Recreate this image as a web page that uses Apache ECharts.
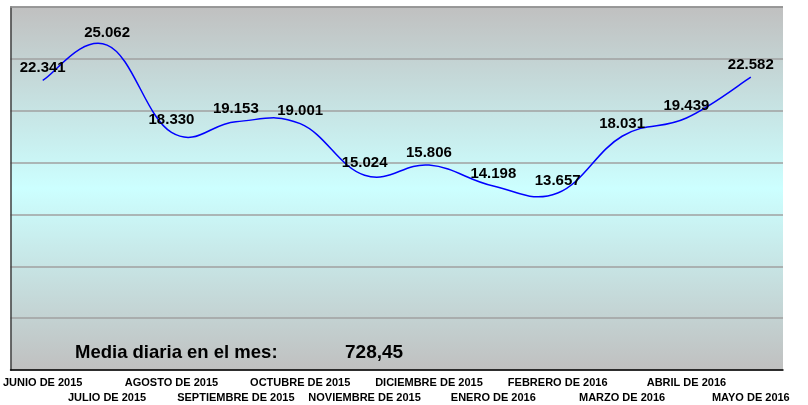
<!DOCTYPE html>
<html lang="es">
<head>
  <meta charset="UTF-8" />
  <title>Media diaria por mes</title>
  <script src="https://cdn.jsdelivr.net/npm/echarts@6.0.0/dist/echarts.min.js"></script>
  <style>
    html, body { margin: 0; padding: 0; background: #fff; }
  </style>
</head>
<body>
  <div id="main" style="width: 808px; height: 405px;"></div>
  <script>
    // meses
    const months = [
      "JUNIO DE 2015", "JULIO DE 2015", "AGOSTO DE 2015", "SEPTIEMBRE DE 2015",
      "OCTUBRE DE 2015", "NOVIEMBRE DE 2015", "DICIEMBRE DE 2015", "ENERO DE 2016",
      "FEBRERO DE 2016", "MARZO DE 2016", "ABRIL DE 2016", "MAYO DE 2016"
    ];
    // valores mensuales
    const values = [22341, 25062, 18330, 19153, 19001, 15024, 15806, 14198, 13657, 18031, 19439, 22582];
    const mediaLabel = "Media diaria en el mes:";
    const mediaValue = "728,45";

    // 22341 -> "22.341"
    function fmt(n) {
      return String(n).replace(/\B(?=(\d{3})+(?!\d))/g, ".");
    }

    const chart = echarts.init(document.getElementById("main"));
    const font = "Liberation Sans, Arial, sans-serif";
    const tension = 1 / 5;

    // curva suavizada tipo Excel (Catmull-Rom -> Bezier)
    function renderCurve(params, api) {
      const pts = values.map((v, i) => api.coord([i, v]));
      const path = [];
      path.push("M" + pts[0][0] + " " + pts[0][1]);
      for (let i = 0; i < pts.length - 1; i++) {
        const p0 = pts[Math.max(i - 1, 0)];
        const p1 = pts[i];
        const p2 = pts[i + 1];
        const p3 = pts[Math.min(i + 2, pts.length - 1)];
        const c1x = p1[0] + (p2[0] - p0[0]) * tension;
        const c1y = p1[1] + (p2[1] - p0[1]) * tension;
        const c2x = p2[0] - (p3[0] - p1[0]) * tension;
        const c2y = p2[1] - (p3[1] - p1[1]) * tension;
        path.push("C" + c1x + " " + c1y + " " + c2x + " " + c2y + " " + p2[0] + " " + p2[1]);
      }
      return {
        type: "path",
        shape: { pathData: path.join(" ") },
        style: { fill: "none", stroke: "#0000ff", lineWidth: 1.5 }
      };
    }

    chart.setOption({
      animation: false,
      grid: {
        left: 10, right: 25, top: 7, bottom: 32,
        show: true,
        borderWidth: 0,
        backgroundColor: {
          type: "linear", x: 0, y: 0, x2: 0, y2: 1,
          colorStops: [
            { offset: 0, color: "#c0c0c0" },
            { offset: 0.5, color: "#ccffff" },
            { offset: 1, color: "#c0c0c0" }
          ]
        }
      },
      xAxis: {
        type: "category",
        data: months,
        boundaryGap: true,
        axisLine: { show: true, lineStyle: { color: "#000", width: 1.5 } },
        axisTick: { show: false },
        axisLabel: {
          interval: 0,
          color: "#000",
          fontFamily: font,
          fontWeight: "bold",
          fontSize: 11,
          margin: 5,
          lineHeight: 15,
          formatter: (v, i) => (i % 2 === 1 ? "\n" + v : v)
        }
      },
      yAxis: {
        type: "value",
        min: 0,
        max: 28000,
        interval: 4000,
        axisLabel: { show: false },
        axisTick: { show: false },
        axisLine: { show: true, lineStyle: { color: "#404040", width: 1.5 } },
        splitLine: { show: true, lineStyle: { color: "#a0a0a0", width: 1.5 } }
      },
      series: [
        {
          type: "line",
          data: values,
          symbol: "circle",
          symbolSize: 0,
          lineStyle: { width: 0, opacity: 0 },
          label: {
            show: true,
            position: "top",
            distance: 5,
            color: "#000",
            fontFamily: font,
            fontWeight: "bold",
            fontSize: 15,
            formatter: (p) => fmt(p.value)
          },
          z: 3
        },
        {
          type: "custom",
          data: [0],
          renderItem: renderCurve,
          silent: true,
          z: 2
        }
      ],
      graphic: [
        {
          type: "text", left: 75, top: 343,
          style: { text: mediaLabel, fill: "#000", font: "bold 18.5px " + font }
        },
        {
          type: "text", left: 345, top: 343,
          style: { text: mediaValue, fill: "#000", font: "bold 19px " + font }
        },
        {
          type: "rect", shape: { x: 10, y: 7, width: 773, height: 0 },
          style: { stroke: "#909090", lineWidth: 1.5 }, z: 10
        }
      ]
    });
  </script>
</body>
</html>
